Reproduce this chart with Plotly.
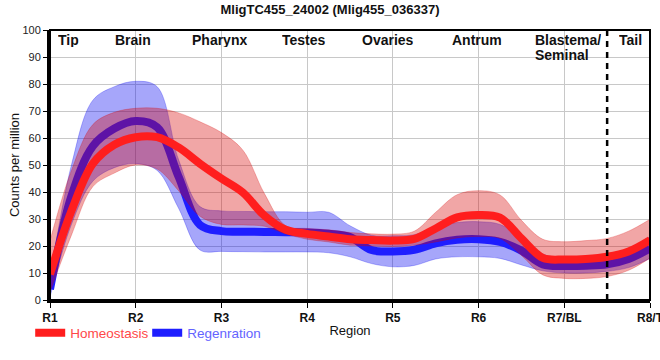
import plotly.graph_objects as go

# ---------------- data ----------------
title_text = "MligTC455_24002 (Mlig455_036337)"
tick_positions = [0, 1, 2, 3, 4, 5, 6, 7]
tick_labels = ["R1", "R2", "R3", "R4", "R5", "R6", "R7/BL", "R8/T"]
region_names = ["Tip", "Brain", "Pharynx", "Testes", "Ovaries", "Antrum", "Blastema/<br>Seminal", "Tail"]
tail_boundary = 6.5

sample_x = [0, 0.25, 0.5, 0.75, 1, 1.25, 1.5, 1.75, 2, 2.25, 2.5, 2.75, 3, 3.25, 3.5,
            3.75, 4, 4.25, 4.5, 4.75, 5, 5.25, 5.5, 5.75, 6, 6.25, 6.5, 6.75, 7]

homeo_mean = [9.5, 33, 50.5, 57.5, 60.3, 60.3, 56.5, 50.5, 45, 39.8, 31.3, 26, 24.5, 23.5, 22.5,
              22.2, 22, 22.6, 26.5, 30.6, 31.5, 30.5, 22.8, 15.6, 15, 15.2, 16, 18, 22.2]
homeo_upper = [22, 48, 65, 69.5, 71, 71, 69.3, 66, 62, 55.5, 39.5, 27.5, 26.5, 26, 25,
               24.5, 24.4, 25.5, 32.5, 39, 40.5, 38.9, 29.5, 22.5, 21.6, 22, 22.8, 25.5, 29.9]
homeo_lower = [3, 24, 42, 47, 50, 48.5, 40.5, 31, 28, 27.8, 27.3, 24.5, 22.5, 21.5, 20.3,
               20, 19.8, 20.3, 21.5, 23, 23.5, 22.8, 16.5, 9.3, 8, 8, 8.7, 11, 15.5]

regen_mean = [4, 38.5, 57, 63.5, 66.3, 64, 45.7, 27.8, 25.5, 25.3, 25.2, 25.1, 25, 24.5, 23.3,
              18.5, 18, 18.6, 21, 22.3, 22.5, 21.5, 18.3, 13.2, 12.6, 12.7, 13.2, 15.2, 19.1]
regen_upper = [8, 50, 74, 79, 81, 79, 52, 34.6, 33, 32.8, 32.7, 32.7, 32.5, 32.5, 27.5,
               24, 23.8, 24.2, 27, 28.7, 29, 28, 23, 17, 15.6, 15.6, 16.5, 19, 23.5]
regen_lower = [1, 28, 44, 49, 50.5, 48, 34, 18.5, 18, 17.9, 17.8, 17.8, 17.8, 17.5, 16,
               13.5, 12.3, 12.8, 15.2, 16, 16, 15.4, 13, 10.8, 10, 10, 10.6, 12, 15.4]

# ---------------- layout helpers ----------------
region_label_x = [0.22, 0.97, 1.98, 2.96, 3.94, 4.98, 5.647, 6.77]
region_label_anchor = ["center"] * 6 + ["left", "center"]

FONT = "Liberation Sans, Arial, sans-serif"
RED_LINE = "rgb(255,30,30)"
BLUE_LINE = "rgb(30,30,255)"
RED_FILL = "rgba(214,0,0,0.35)"
BLUE_FILL = "rgba(0,0,240,0.35)"

fig = go.Figure()


def add_band(upper, lower, fill, edge):
    fig.add_trace(go.Scatter(x=sample_x, y=upper, mode="lines",
                             line=dict(color=edge, width=1, shape="spline"),
                             hoverinfo="skip", showlegend=False))
    fig.add_trace(go.Scatter(x=sample_x, y=lower, mode="lines",
                             line=dict(color=edge, width=1, shape="spline"),
                             fill="tonexty", fillcolor=fill,
                             hoverinfo="skip", showlegend=False))


# regeneration (drawn first, underneath)
add_band(regen_upper, regen_lower, BLUE_FILL, "rgba(0,0,240,0.25)")
fig.add_trace(go.Scatter(x=sample_x, y=regen_mean, mode="lines",
                         line=dict(color=BLUE_LINE, width=8, shape="spline"),
                         name='<span style="color:#6464ff">Regenration</span>',
                         legendrank=2))
# homeostasis (on top)
add_band(homeo_upper, homeo_lower, RED_FILL, "rgba(214,0,0,0.25)")
fig.add_trace(go.Scatter(x=sample_x, y=homeo_mean, mode="lines",
                         line=dict(color=RED_LINE, width=8, shape="spline"),
                         name='<span style="color:#ff4848">Homeostasis</span>',
                         legendrank=1))

# region labels
annotations = []
for name, xpos, anchor in zip(region_names, region_label_x, region_label_anchor):
    for i, line in enumerate(name.split("<br>")):
        annotations.append(dict(x=xpos, xref="x", y=1, yref="paper", yanchor="top",
                                xanchor=anchor, yshift=-2 - 15 * i, showarrow=False,
                                text=line, height=14, valign="middle", borderpad=0,
                                font=dict(family=FONT, size=14, color="#111", weight="bold")))

shapes = [
    dict(type="line", xref="x", yref="paper", x0=tail_boundary, x1=tail_boundary, y0=0, y1=1,
         line=dict(color="black", width=2.5, dash="6px,5px"), layer="above"),
    dict(type="rect", xref="paper", yref="paper", x0=0, x1=1, y0=0, y1=1,
         line=dict(color="black", width=2), layer="above"),
]

fig.update_layout(
    width=660, height=360,
    margin=dict(l=50, r=10, t=30, b=60),
    paper_bgcolor="white", plot_bgcolor="white",
    font=dict(family=FONT, color="#111"),
    title=dict(text=title_text, x=0.5, xref="container", xanchor="center",
               y=1 - 9 / 360, yanchor="middle",
               font=dict(family=FONT, size=13, color="#111", weight="bold")),
    xaxis=dict(range=[0, 7], tickvals=tick_positions, ticktext=tick_labels,
               showgrid=True, gridcolor="#c8c8c8", gridwidth=1, zeroline=False,
               showline=True, linecolor="black", linewidth=3,
               ticks="outside", ticklen=5, tickcolor="black", tickwidth=1,
               tickfont=dict(family=FONT, size=12, color="#111", weight="bold"),
               ticklabeloverflow="allow",
               title=dict(text="Region", font=dict(family=FONT, size=13, color="#111"), standoff=2),
               automargin=False, fixedrange=True),
    yaxis=dict(range=[0, 100], dtick=10, showgrid=True, gridcolor="#c8c8c8", gridwidth=1,
               zeroline=False, showline=True, linecolor="black", linewidth=3,
               ticks="outside", ticklen=4, tickcolor="black", tickwidth=1,
               tickfont=dict(family=FONT, size=11, color="#222"),
               title=dict(text="Counts per million", font=dict(family=FONT, size=13, color="#111"),
                          standoff=0),
               automargin=False, fixedrange=True),
    legend=dict(orientation="h", x=-0.033, xanchor="left", y=-0.122, yanchor="middle",
                font=dict(family=FONT, size=13.5), entrywidth=72, entrywidthmode="pixels",
                bgcolor="rgba(0,0,0,0)", traceorder="normal"),
    annotations=annotations,
    shapes=shapes,
    showlegend=True,
)

fig.write_html("out.html", config={"displayModeBar": False},
               post_script="document.body.style.margin='0';")
